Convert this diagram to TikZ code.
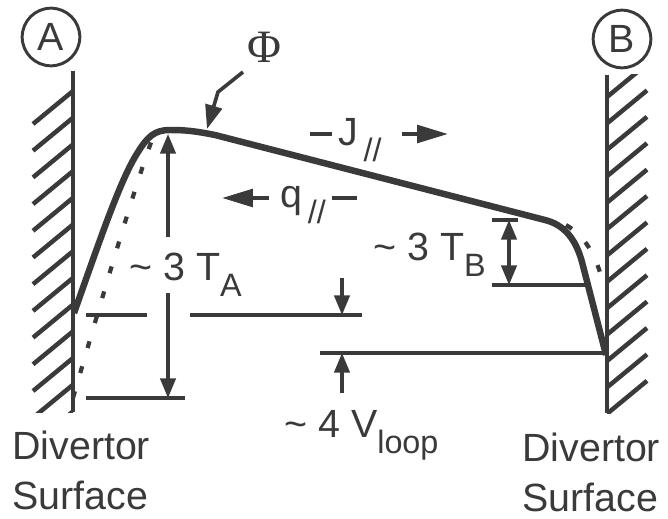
\documentclass[tikz,border=0pt]{standalone}
\usepackage{fontspec}
\setmainfont{Liberation Sans}
\newfontfamily\phifont{Liberation Serif}
\usetikzlibrary{arrows.meta,calc}
\definecolor{InkGray}{HTML}{3A3A3A}
\newcommand{\lowsub}[1]{\raisebox{-12pt}{\fontsize{23}{23}\selectfont #1}}

\begin{document}
\begin{tikzpicture}[x=0.025cm,y=-0.025cm,
        profile/.style={InkGray,line width=4.6pt,line join=round},
        dotprofile/.style={InkGray,line width=3pt,dash pattern=on 5pt off 13.5pt},
        wall/.style={InkGray,line width=2.8pt},
        hatchline/.style={InkGray,line width=3.2pt},
        level/.style={InkGray,line width=2.6pt},
        dimarrow/.style={InkGray,line width=2.2pt,-{Triangle[length=14pt,width=11pt]}},
        dimboth/.style={dimarrow,{Triangle[length=14pt,width=11pt]}-{Triangle[length=14pt,width=11pt]}},
        flowarrow/.style={InkGray,line width=2.8pt,-{Triangle[length=22pt,width=12.5pt]}},
        lbl/.style={text=InkGray,inner sep=0pt,font=\fontsize{28}{35}\selectfont},
        endtag/.style={lbl,circle,draw=InkGray,line width=2.1pt,minimum size=41pt}]
        \useasboundingbox (0,0) rectangle (668,518);

        \coordinate (Atop) at (73,71);
        \coordinate (Abot) at (73,412);
        \coordinate (Btop) at (607,75);
        \coordinate (Bbot) at (607,413);
        \coordinate (Aend) at (74,313);
        \coordinate (Bend) at (606,355);

        \begin{scope}
          \clip (20,71) rectangle (73,412);
          \foreach \k in {0,...,12}
            \draw[hatchline] (33,{124+26.7*\k}) -- (73,{91+26.7*\k});
        \end{scope}
        \begin{scope}
          \clip (607,75) rectangle (660,413);
          \foreach \k in {0,...,12}
            \draw[hatchline] (607,{97+26.4*\k}) -- (647,{64+26.4*\k});
        \end{scope}
        \draw[wall] (Atop) -- (Abot);
        \draw[wall] (Btop) -- (Bbot);

        \node[endtag] (tagA) at (51,37) {A};
        \node[endtag] (tagB) at (622,39) {B};

        \draw[dotprofile] (73,398) .. controls (100,305) and (135,185) .. (153,137);
        \draw[dotprofile] (566,225) .. controls (585,236) and (596,255) .. (603,283);
        \draw[profile] (Aend) .. controls (100,240) and (120,180) .. (138,152)
          .. controls (148,136) and (155,130) .. (170,130)
          .. controls (185,130) and (195,131) .. (215,135) -- (545,220)
          .. controls (565,225) and (576,240) .. (582,262) -- (Bend);

        \node[lbl,font=\phifont\fontsize{33}{33}\selectfont] (phi) at (264,47) {Φ};
        \coordinate (phiTail) at (243,72);
        \coordinate (phiBend) at (218,92);
        \coordinate (phiTip) at (207,129);
        \draw[InkGray,line width=2.6pt,-{Triangle[length=17pt,width=12pt]}] (phiTail) -- (phiBend) -- (phiTip);

        \node[lbl,anchor=base west] (jlab) at (338,145) {J\kern4pt\lowsub{//}};
        \coordinate (jTail) at (310,134);
        \coordinate (jTip) at (448,134);
        \draw[level] (jTail) -- ([xshift=-4pt]jlab.west |- jTail);
        \draw[flowarrow] ([xshift=14pt]jlab.east |- jTip) -- (jTip);

        \node[lbl,anchor=base west] (qlab) at (280,207) {q\kern4pt\lowsub{//}};
        \coordinate (qTip) at (222,198);
        \coordinate (qTail) at (357,198);
        \draw[flowarrow] ([xshift=-8pt]qlab.west |- qTip) -- (qTip);
        \draw[level] ([xshift=4pt]qlab.east |- qTail) -- (qTail);

        \draw[level] (86,315) -- (147,315);
        \draw[level] (190,315) -- (362,315);
        \draw[level] (86,398) -- (185,398);
        \draw[level] (320,353) -- (Bbot |- 320,353);
        \draw[level] (492,220) -- (518,220);
        \draw[level] (492,285) -- (585,285);

        \node[lbl,anchor=base west] (ta) at (129,280) {\textasciitilde\ 3 T\lowsub{A}};
        \coordinate (taUp) at (168,237);
        \coordinate (taPeak) at (168,134);
        \coordinate (taDown) at (168,293);
        \coordinate (taBase) at (168,398);
        \draw[dimarrow] (taUp) -- (taPeak);
        \draw[dimarrow] (taDown) -- (taBase);

        \node[lbl,anchor=base east] (tb) at (486,260) {\textasciitilde\ 3 T\lowsub{B}};
        \coordinate (tbTop) at (509,220);
        \coordinate (tbBot) at (509,285);
        \draw[dimboth] (tbTop) -- (tbBot);

        \node[lbl,anchor=base west] (vl) at (284,437) {\textasciitilde\ 4 V\lowsub{loop}};
        \coordinate (vlUp) at (342,278);
        \coordinate (vlHigh) at (342,315);
        \coordinate (vlDown) at (342,393);
        \coordinate (vlLow) at (342,353);
        \draw[dimarrow] (vlUp) -- (vlHigh);
        \draw[dimarrow] (vlDown) -- (vlLow);

        \node[lbl,anchor=north west,align=left] (surfA) at (12,431) {Divertor\\Surface};
        \node[lbl,anchor=north west,align=left] (surfB) at (522,433) {Divertor\\Surface};
      \end{tikzpicture}
\end{document}
